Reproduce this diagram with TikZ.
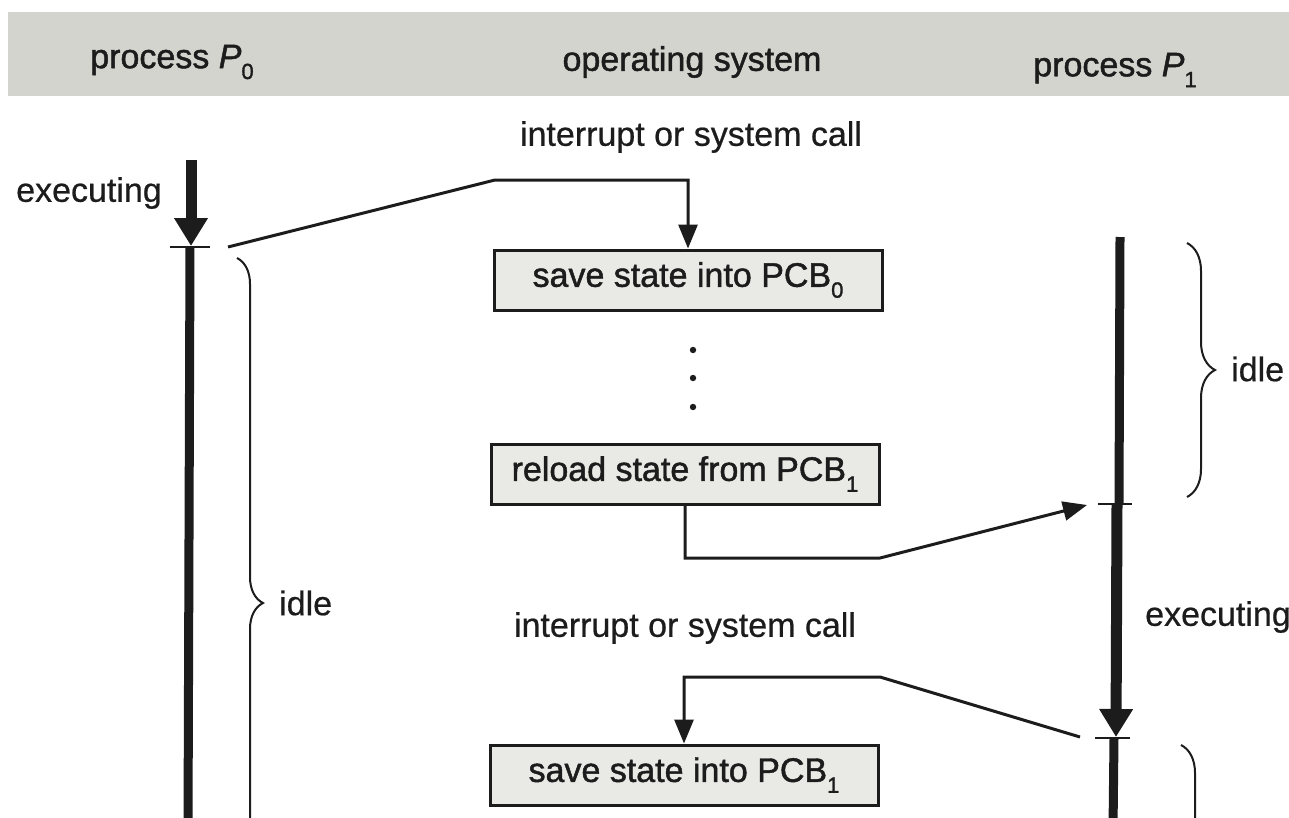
\documentclass[tikz,border=0pt]{standalone}
\usepackage{fontspec}
\setmainfont{Liberation Sans}
\newfontfamily\labelfont{Liberation Sans}[FakeBold=0.6, ItalicFont=*-Italic, ItalicFeatures={FakeBold=1.4}]
\newfontfamily\heavyfont{Liberation Sans}[FakeBold=1.4, ItalicFont=*-Italic, ItalicFeatures={FakeBold=1.4}]
\usetikzlibrary{arrows.meta,decorations.pathreplacing}

\definecolor{band}{RGB}{212,212,207}
\definecolor{boxfill}{RGB}{233,233,229}
\definecolor{ink}{RGB}{28,28,28}

% lowered index digit, as in PCB_0 or P_1
\newcommand\lowidx[1]{\raisebox{-0.32em}{\fontsize{22}{22}\selectfont #1}}

\tikzset{
  lbl/.style={font=\labelfont\fontsize{34}{40}\selectfont, text=ink, inner sep=0pt},
  hdr/.style={font=\heavyfont\fontsize{34}{40}\selectfont, text=ink, inner sep=0pt},
  opbox/.style={draw=ink, line width=3pt, fill=boxfill, minimum width=388pt,
    minimum height=60pt, inner sep=0pt, font=\heavyfont\fontsize{34}{40}\selectfont, text=ink},
  conn/.style={draw=ink, line width=3pt, -{Triangle[width=19pt,length=24pt]}},
  idleline/.style={draw=ink, line width=9pt},
  execarrow/.style={draw=ink, line width=11pt, -{Triangle[width=32pt,length=28pt]}},
  tickmark/.style={draw=ink, line width=2.5pt},
  idlebrace/.style={draw=ink, line width=2pt, decorate,
    decoration={brace, amplitude=26pt}},
}

\begin{document}
\begin{tikzpicture}[x=1pt,y=-1pt]
\useasboundingbox (0,0) rectangle (1289,817);
\clip (0,0) rectangle (1289,817);

% header band with the three column titles
\fill[band] (8,12) rectangle (1289,96);
\node[hdr] (hP0) at (172,62) {process \textit{P}\lowidx{0}};
\node[hdr] (hOS) at (692,62) {operating system};
\node[hdr] (hP1) at (1115,70) {process \textit{P}\lowidx{1}};

% operating system actions
\node[opbox] (save0) at (688,280) {save state into PCB\lowidx{0}};
\node[opbox] (reload1) at (685,474) {reload state from PCB\lowidx{1}};
\node[opbox] (save1) at (684,775) {save state into PCB\lowidx{1}};
\fill[ink] (693,350) circle (3.2);
\fill[ink] (693,378) circle (3.2);
\fill[ink] (693,407) circle (3.2);

% process P0 time line
\coordinate (p0top) at (191,160);
\coordinate (p0sw) at (190,247);
\coordinate (p0out) at (228,247);
\draw[execarrow] (p0top) -- (191,246);
\draw[tickmark] (170,247) -- (210,247);
\draw[idleline] (p0sw) -- (188,830);

% process P1 time line
\coordinate (p1top) at (1120,237);
\coordinate (p1in) at (1087,505);
\coordinate (p1out) at (1080,737);
\draw[idleline] (p1top) -- (1119,504);
\draw[tickmark] (1098,504) -- (1132,504);
\draw[execarrow] (1117,504) -- (1116,737);
\draw[tickmark] (1095,738) -- (1130,738);
\draw[idleline] (1114,738) -- (1113,830);

% control transfers
\draw[conn] (p0out) -- (495,180) -| (save0.north);
\draw[conn] (reload1.south) |- (880,558) -- (p1in);
\draw[conn] (p1out) -- (880,677) -| (save1.north);

% idle periods
\draw[idlebrace] (237,258) -- (237,948);
\draw[idlebrace, decoration={amplitude=28pt}] (1187,243) -- (1187,497);
\draw[idlebrace, decoration={amplitude=28pt}] (1181,745) -- (1181,1100);

% labels
\node[lbl] (exec0) at (89,193) {executing};
\node[lbl, anchor=west] (idle0) at (279,603) {idle};
\node[lbl] (irq0) at (691,137) {interrupt or system call};
\node[lbl] (irq1) at (685,628) {interrupt or system call};
\node[lbl, anchor=west] (exec1) at (1145,617) {executing};
\node[lbl, anchor=west] (idle1) at (1231,369) {idle};
\end{tikzpicture}
\end{document}
